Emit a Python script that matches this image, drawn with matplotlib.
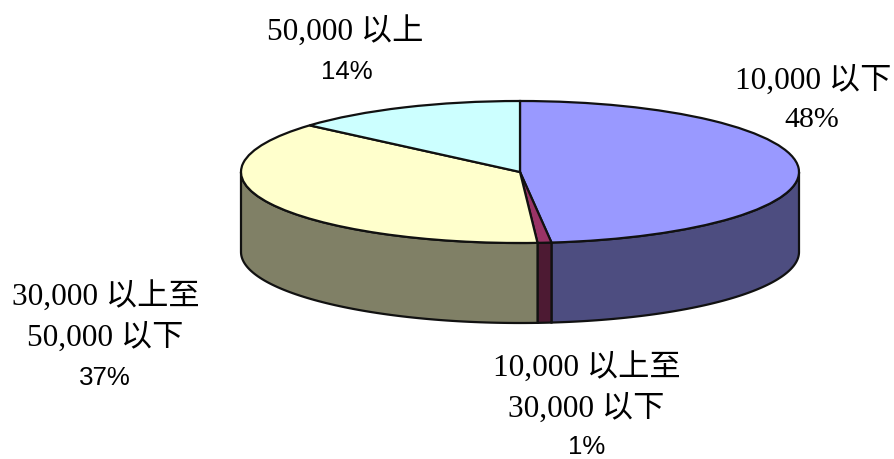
import numpy as np
import matplotlib
matplotlib.use("Agg")
import matplotlib.pyplot as plt

W, H = 895, 459

# valores, sentido horario a partir do topo
valores = [48.2, 0.8, 37.4, 13.6]
categorias = [["10,000 以下"], ["10,000 以上至", "30,000 以下"],
              ["30,000 以上至", "50,000 以下"], ["50,000 以上"]]
porcentagens = ["48%", "1%", "37%", "14%"]
cores_topo = ["#9999FF", "#993366", "#FFFFCC", "#CCFFFF"]
cores_lado = ["#4D4D80", "#4D1A33", "#808066", "#668080"]

# geometria da pizza em pixels
cx, cy, rx, ry, prof = 520, 172, 279, 71, 80
LINHA = "#111111"

fig = plt.figure(figsize=(W / 100, H / 100), dpi=100)
ax = fig.add_axes([0, 0, 1, 1])

# lateral: so a metade de baixo aparece
inicio = 0.0
for v, cor in zip(valores, cores_lado):
    fim = inicio + v / sum(valores) * 360
    a, b = max(inicio, 90), min(fim, 270)
    if b > a:
        t = np.radians(np.linspace(a, b, 80))
        x = np.sin(t)
        y = np.cos(t)
        d = prof / ry
        ax.fill(np.r_[x, x[::-1]], np.r_[y, y[::-1] - d],
                facecolor=cor, edgecolor=LINHA, linewidth=1.6, zorder=1)
    inicio = fim

# topo
ax.pie(valores, colors=cores_topo, startangle=90, counterclock=False, radius=1,
       wedgeprops={"edgecolor": LINHA, "linewidth": 1.6, "zorder": 2})
ax.set_aspect("auto")
ax.set_xlim(-cx / rx, (W - cx) / rx)
ax.set_ylim(-(H - cy) / ry, cy / ry)
ax.axis("off")

# rotulos: (x, y) em pixels do centro de cada linha
serif = ["Liberation Serif", "Noto Sans CJK SC"]
pos_cat = [[(813, 81)], [(587, 367), (586, 409)], [(106, 296), (105, 338)], [(345, 31)]]
pos_pct = [(812, 120), (587, 447), (105, 378), (347, 72)]
# o 48% e o unico percentual com serifa no original
fonte_pct = [("Liberation Serif", 21.5), ("Liberation Sans", 18.6),
             ("Liberation Sans", 18.6), ("Liberation Sans", 18.6)]

for linhas, posicoes, pct, p, f in zip(categorias, pos_cat, porcentagens, pos_pct, fonte_pct):
    for txt, (x, y) in zip(linhas, posicoes):
        fig.text(x / W, 1 - y / H, txt, family=serif, fontsize=22.5,
                 ha="center", va="center", color="black")
    fig.text(p[0] / W, 1 - p[1] / H, pct, family=f[0], fontsize=f[1],
             ha="center", va="center", color="black")

fig.savefig("out.png", dpi=100, facecolor="white")
